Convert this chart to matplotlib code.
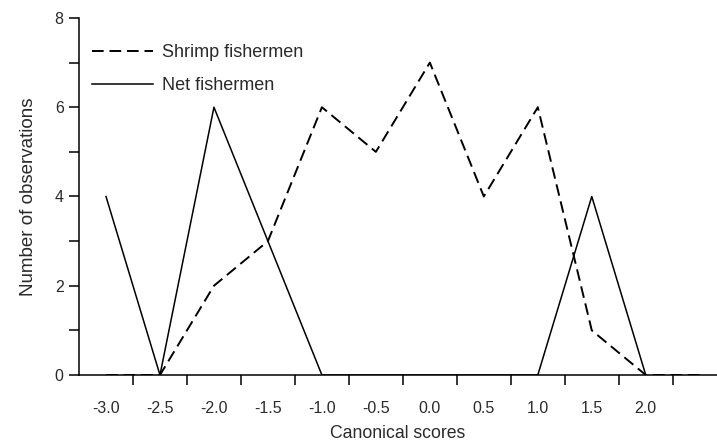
import matplotlib
matplotlib.use("Agg")
import matplotlib.pyplot as plt

# Frequency polygons of canonical scores
scores = [-3.0, -2.5, -2.0, -1.5, -1.0, -0.5, 0.0, 0.5, 1.0, 1.5, 2.0, 2.5]
shrimp = [0, 0, 2, 3, 6, 5, 7, 4, 6, 1, 0, 0]
net_scores = [-3.0, -2.5, -2.0, -1.5, -1.0, -0.5, 0.0, 0.5, 1.0, 1.5, 2.0]
net = [4, 0, 6, 3, 0, 0, 0, 0, 0, 4, 0]

tick_labels = ["-3.0", "-2.5", "-2.0", "-1.5", "-1.0", "-0.5",
               "0.0", "0.5", "1.0", "1.5", "2.0"]
bin_edges = [-2.75, -2.25, -1.75, -1.25, -0.75, -0.25,
             0.25, 0.75, 1.25, 1.75, 2.25]

plt.rcParams['font.family'] = ['Liberation Sans', 'DejaVu Sans']
text_color = '#2a2a2a'

fig = plt.figure(figsize=(7.17, 4.45), dpi=100)
ax = fig.add_axes([0.1102, 0.1573, 0.8898, 0.8023])

ax.plot(scores, shrimp, color='black', lw=1.4, ls=(0, (6, 3)),
        label='Shrimp fishermen', zorder=3)
ax.plot(net_scores, net, color='black', lw=1.1, label='Net fishermen',
        zorder=3)

ax.set_xlim(-3.25, 2.66)
ax.set_ylim(0, 8)

# labels sit mid-bin, tick marks on the bin edges
ax.set_xticks(net_scores)
ax.set_xticklabels(tick_labels)
ax.set_xticks(bin_edges, minor=True)
ax.tick_params(axis='x', which='major', length=0, pad=19,
               labelsize=11.5, labelcolor=text_color)
ax.tick_params(axis='x', which='minor', length=7, width=1.1, direction='out')

ax.set_yticks([0, 2, 4, 6, 8])
ax.set_yticks([1, 3, 5, 7], minor=True)
ax.tick_params(axis='y', which='both', length=7, width=1.1, direction='out')
ax.tick_params(axis='y', which='major', pad=4, labelsize=11.5,
               labelcolor=text_color)

for side in ['top', 'right']:
    ax.spines[side].set_visible(False)
for side in ['left', 'bottom']:
    ax.spines[side].set_linewidth(1.1)

ax.set_xlabel('Canonical scores', fontsize=12.7, color=text_color, labelpad=6)
ax.set_ylabel('Number of observations', fontsize=13.5, color=text_color,
              labelpad=13)

leg = ax.legend(loc='upper left', bbox_to_anchor=(0.02, 0.927), frameon=False,
                fontsize=13, handlelength=3.4, handletextpad=0.5,
                labelspacing=0.9, borderpad=0, borderaxespad=0)
for t in leg.get_texts():
    t.set_color(text_color)

plt.savefig('out.png', dpi=100)
